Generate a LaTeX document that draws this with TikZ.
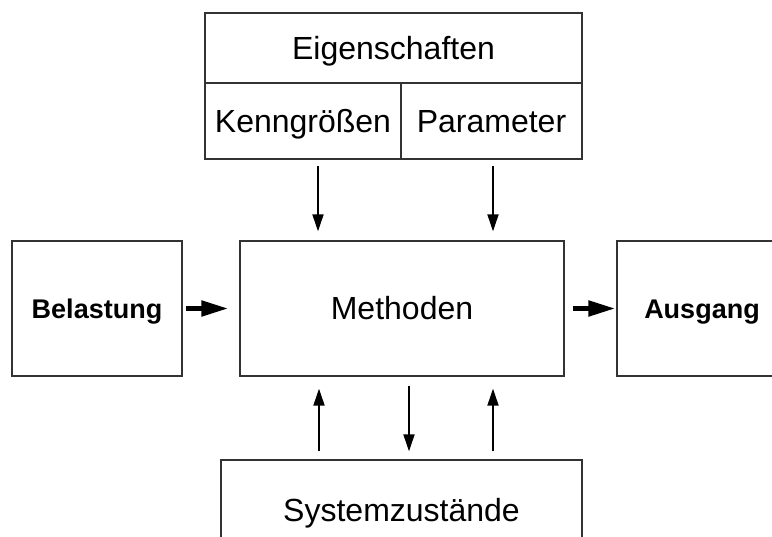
\documentclass[tikz,border=0pt]{standalone}
\usepackage{fontspec}
\setmainfont{Liberation Sans}
\usetikzlibrary{arrows.meta,calc}

\tikzset{
  box/.style={draw=black!80, line width=1.3pt, inner sep=0pt, align=center},
  plain/.style={font=\fontsize{32}{38}\selectfont, text height=23pt, text depth=0pt},
  strong/.style={font=\bfseries\fontsize{27}{32}\selectfont, text height=19.5pt, text depth=0pt},
  feed/.style={-{Triangle[length=17pt,width=11pt]}, line width=1.8pt},
  flow/.style={-{Triangle[length=27pt,width=15pt]}, line width=5pt},
}

\begin{document}
\begin{tikzpicture}[x=1pt,y=-1pt]
    \useasboundingbox (0,0) rectangle (772,537);
    \clip (0,0) rectangle (772,537);

    % Eigenschaften
    \node[box, plain, minimum width=377pt, minimum height=70pt] (eig) at (393.5,48) {Eigenschaften};
    \node[box, plain, minimum width=196pt, minimum height=76pt] (kenn) at (303,121) {Kenngrößen};
    \node[box, plain, minimum width=181pt, minimum height=76pt] (para) at (491.5,121) {Parameter};

    % mittlere Reihe
    \node[box, strong, minimum width=170pt, minimum height=135pt] (bel) at (97,308.5) {Belastung};
    \node[box, plain, minimum width=324pt, minimum height=135pt] (meth) at (402,308.5) {Methoden};
    \node[box, strong, minimum width=170pt, minimum height=135pt] (aus) at (702,308.5) {Ausgang};

    % Systemzustände
    \node[box, plain, minimum width=361pt, minimum height=100pt] (sys) at (401.5,510) {Systemzustände};

    % Pfeile oben
    \draw[feed] ($(kenn.south)+(15,6)$) -- ($(kenn.south |- meth.north)+(15,-9)$);
    \draw[feed] ($(para.south)+(1.5,6)$) -- ($(para.south |- meth.north)+(1.5,-9)$);

    % Pfeile unten
    \draw[feed] ($(sys.north)+(-82.5,-8)$) -- ($(sys.north |- meth.south)+(-82.5,12)$);
    \draw[feed] ($(sys.north |- meth.south)+(7.5,9)$) -- ($(sys.north)+(7.5,-8)$);
    \draw[feed] ($(sys.north)+(91.5,-8)$) -- ($(sys.north |- meth.south)+(91.5,12)$);

    % Eingang / Ausgang
    \draw[flow] ($(bel.east)+(3,0)$) -- ($(meth.west)+(-11,0)$);
    \draw[flow] ($(meth.east)+(8,0)$) -- ($(aus.west)+(-1,0)$);
\end{tikzpicture}
\end{document}
